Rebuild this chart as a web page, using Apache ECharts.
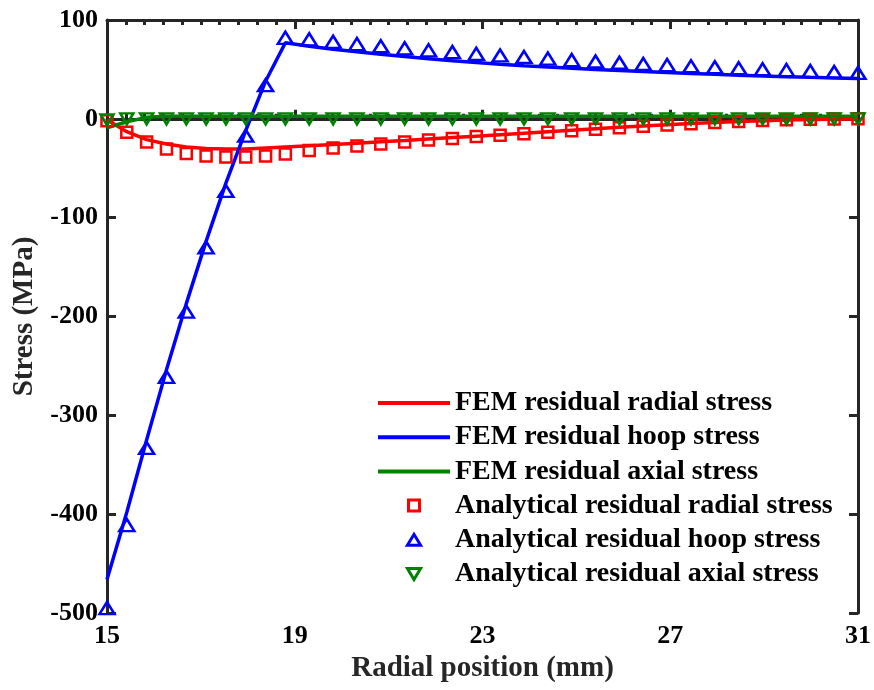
<!DOCTYPE html>
<html>
<head>
<meta charset="utf-8">
<script src="https://cdn.jsdelivr.net/npm/echarts@6/dist/echarts.min.js"></script>
<style>
html,body{margin:0;padding:0;background:#fff;}
#chart{width:874px;height:690px;}
</style>
</head>
<body>
<div id="chart"></div>
<script>
// Radial positions (mm) of the sampled points
const radialPos = [15, 15.422, 15.844, 16.267, 16.689, 17.111, 17.533, 17.956, 18.378, 18.8,
  19.308, 19.817, 20.325, 20.833, 21.342, 21.85, 22.358, 22.867, 23.375, 23.883, 24.392, 24.9,
  25.408, 25.917, 26.425, 26.933, 27.442, 27.95, 28.458, 28.967, 29.475, 29.983, 30.492, 31.0];

// FEM results (MPa)
const femRadial = [-1, -13, -21, -25.5, -28.5, -30, -30.5, -30.5, -29.5, -28.5,
  -27.3, -26, -24.7, -23.3, -22, -20.5, -19, -17.5, -16, -14.5, -13, -11.5,
  -10, -8.5, -7.2, -5.9, -4.7, -3.6, -2.7, -1.9, -1.2, -0.7, -0.3, 0];
const femHoop = [-466, -398, -325, -254, -187, -124, -65, -12, 38, 77,
  73.5, 70.5, 67.8, 65.3, 63, 60.8, 58.8, 57, 55.3, 53.8, 52.4, 51.1,
  49.9, 48.8, 47.8, 46.8, 45.9, 45, 44.2, 43.4, 42.7, 42, 41.4, 40.8];
const femAxial = [-9, -3, 1.5, 2.5, 2.5, 2.5, 2.5, 2.5, 2.5, 2.5,
  2.5, 2.5, 2.5, 2.5, 2.5, 2.5, 2.5, 2.5, 2.5, 2.5, 2.5, 2.5,
  2.5, 2.5, 2.5, 2.5, 2.5, 2.5, 2.5, 2.5, 2.5, 2.5, 2.5, 2.5];

// Analytical results (MPa)
const anaRadial = [-2, -13.5, -23.5, -30.5, -35, -37.5, -38.5, -38.5, -37.5, -35.5,
  -32, -29.5, -27.5, -25.5, -23.5, -21.5, -20, -18, -16.5, -15, -13.5, -12,
  -10.5, -9, -7.6, -6.2, -5, -3.8, -2.8, -1.8, -1, -0.5, -0.2, 0];
const anaHoop = [-495, -411, -333, -261, -195, -130, -73, -17, 34, 82,
  80.5, 78, 75.7, 73.5, 71.3, 69.3, 67.5, 65.8, 64.2, 62.6, 61, 59.5,
  58.1, 56.8, 55.6, 54.4, 53.3, 52.2, 51.2, 50.2, 49.3, 48.4, 47.5, 46.5];
const anaAxial = [-1, 0, 0, 0, 0, 0, 0, 0, 0, 0,
  0, 0, 0, 0, 0, 0, 0, 0, 0, 0, 0, 0,
  0, 0, 0, 0, 0, 0, 0, 0, 0, 0, 0, 0];

// Axis ticks
const xTicks = [15, 19, 23, 27, 31];
const xMinorStep = 0.4;
const yTicks = [-500, -400, -300, -200, -100, 0, 100];

const seriesNames = [
  'FEM residual radial stress',
  'FEM residual hoop stress',
  'FEM residual axial stress',
  'Analytical residual radial stress',
  'Analytical residual hoop stress',
  'Analytical residual axial stress'
];

const xMinorTicks = [];
for (let i = 0; i <= Math.round((xTicks[xTicks.length-1]-xTicks[0])/xMinorStep); i++) {
  xMinorTicks.push(+(xTicks[0] + i*xMinorStep).toFixed(3));
}

const pair = arr => radialPos.map((x, i) => [x, arr[i]]);
const FONT = 'Liberation Serif';
const AX = '#262626';

const chart = echarts.init(document.getElementById('chart'), null, {renderer: 'canvas'});

const baseX = {
  type: 'value', min: xTicks[0], max: xTicks[xTicks.length-1],
  splitLine: {show: false}
};
const baseY = {
  type: 'value', min: yTicks[0], max: yTicks[yTicks.length-1], interval: 100,
  splitLine: {show: false}
};

const lineSeries = (name, data, color, z) => ({
  name, type: 'line', data: pair(data), xAxisIndex: 0, yAxisIndex: 0,
  symbol: 'none', smooth: false, z,
  lineStyle: {color, width: 3.5}, itemStyle: {color}
});
const scatterSeries = (name, data, color, symbol, size, rotate, z) => ({
  name, type: 'scatter', data: pair(data), xAxisIndex: 0, yAxisIndex: 0,
  symbol, symbolSize: size, symbolRotate: rotate, z,
  itemStyle: {color: 'rgba(255,255,255,0)', borderColor: color, borderWidth: 2.5, opacity: 1}
});

const SQ = 'path://M0,0 L10,0 L10,10 L0,10 Z';
const TRI_UP = 'path://M0,10 L6,0 L12,10 Z';
const TRI_DN = 'path://M0,0 L12,0 L6,10 Z';

chart.setOption({
  animation: false,
  backgroundColor: '#fff',
  grid: {left: 107, right: 13, top: 20, bottom: 77, containLabel: false},
  legend: {
    orient: 'vertical', left: 376, top: 388, padding: 0,
    itemWidth: 72, itemHeight: 11, itemGap: 4.2,
    symbolKeepAspect: true,
    data: [
      {name: seriesNames[0], itemStyle: {opacity: 0}, lineStyle: {width: 4}},
      {name: seriesNames[1], itemStyle: {opacity: 0}, lineStyle: {width: 4}},
      {name: seriesNames[2], itemStyle: {opacity: 0}, lineStyle: {width: 4}},
      {name: seriesNames[3], icon: SQ, symbolRotate: 0, itemStyle: {borderWidth: 3}},
      {name: seriesNames[4], icon: TRI_UP, symbolRotate: 0, itemStyle: {borderWidth: 3}},
      {name: seriesNames[5], icon: TRI_DN, symbolRotate: 0, itemStyle: {borderWidth: 3}}
    ],
    textStyle: {fontFamily: FONT, fontWeight: 'bold', fontSize: 28, color: '#000', lineHeight: 30}
  },
  xAxis: [
    Object.assign({}, baseX, {
      position: 'bottom',
      name: 'Radial position (mm)', nameLocation: 'middle', nameGap: 37,
      nameTextStyle: {fontFamily: FONT, fontWeight: 'bold', fontSize: 29, color: '#262626'},
      axisLine: {show: true, lineStyle: {color: AX, width: 3}},
      axisTick: {show: true, inside: true, length: 9, customValues: xTicks, lineStyle: {color: AX, width: 3}},
      axisLabel: {show: true, customValues: xTicks, margin: 10, fontFamily: FONT, fontWeight: 'bold', fontSize: 26, color: '#000'}
    }),
    Object.assign({}, baseX, {
      position: 'bottom',
      axisLine: {show: false},
      axisTick: {show: true, inside: true, length: 5, customValues: xMinorTicks, lineStyle: {color: AX, width: 3}},
      axisLabel: {show: false}
    }),
    Object.assign({}, baseX, {
      position: 'top',
      axisLine: {show: true, lineStyle: {color: AX, width: 3}},
      axisTick: {show: true, inside: true, length: 9, customValues: xTicks, lineStyle: {color: AX, width: 3}},
      axisLabel: {show: false}
    }),
    Object.assign({}, baseX, {
      position: 'top',
      axisLine: {show: false},
      axisTick: {show: true, inside: true, length: 5, customValues: xMinorTicks, lineStyle: {color: AX, width: 3}},
      axisLabel: {show: false}
    })
  ],
  yAxis: [
    Object.assign({}, baseY, {
      position: 'left',
      name: 'Stress (MPa)', nameLocation: 'middle', nameGap: 66,
      nameTextStyle: {fontFamily: FONT, fontWeight: 'bold', fontSize: 29, color: '#262626'},
      axisLine: {show: true, lineStyle: {color: AX, width: 3}},
      axisTick: {show: true, inside: true, length: 9, lineStyle: {color: AX, width: 3}},
      axisLabel: {show: true, margin: 9, fontFamily: FONT, fontWeight: 'bold', fontSize: 26, color: '#000'}
    }),
    Object.assign({}, baseY, {
      position: 'right',
      axisLine: {show: true, lineStyle: {color: AX, width: 3}},
      axisTick: {show: true, inside: true, length: 9, lineStyle: {color: AX, width: 3}},
      axisLabel: {show: false}
    })
  ],
  series: [
    lineSeries(seriesNames[0], femRadial, '#ff0000', 2),
    lineSeries(seriesNames[1], femHoop, '#0000ff', 3),
    lineSeries(seriesNames[2], femAxial, '#008000', 4),
    scatterSeries(seriesNames[3], anaRadial, '#ff0000', 'rect', 11, 0, 5),
    scatterSeries(seriesNames[4], anaHoop, '#0000ff', 'triangle', [15, 12], 0, 6),
    scatterSeries(seriesNames[5], anaAxial, '#008000', 'triangle', [13, 11], 180, 7)
  ]
});
</script>
</body>
</html>
